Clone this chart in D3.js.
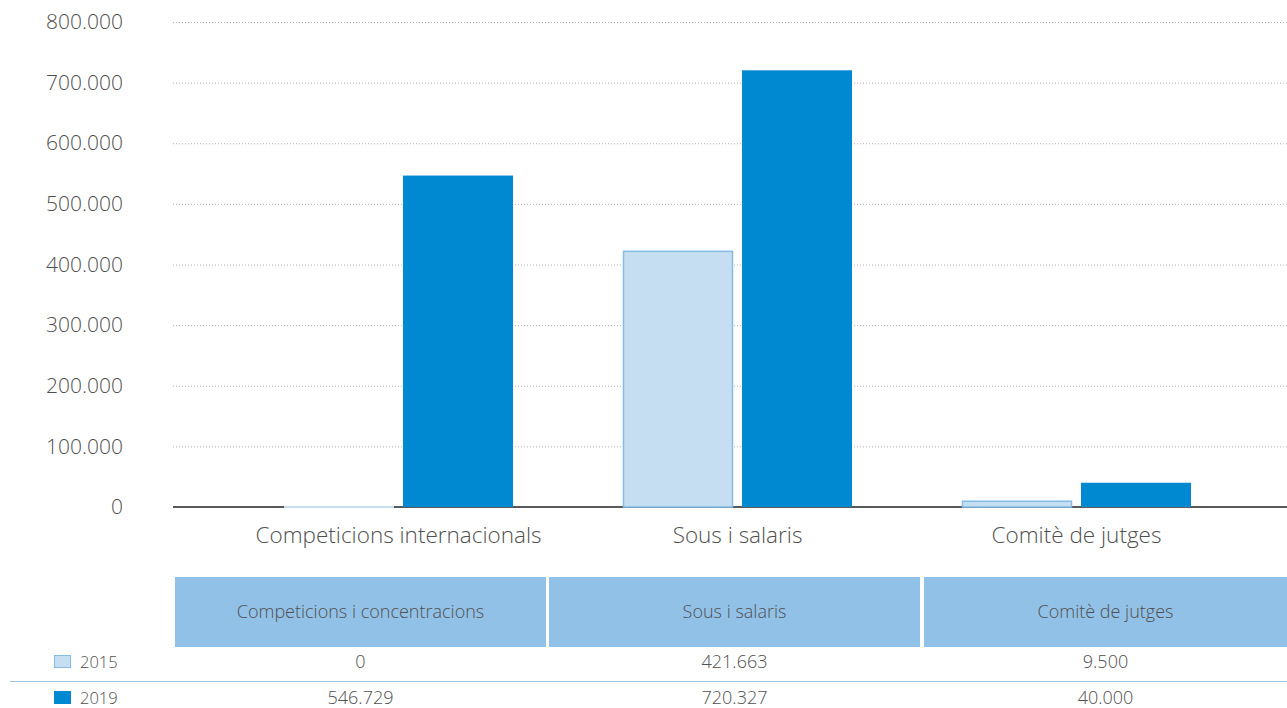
<!DOCTYPE html>
<html><head><meta charset="utf-8">
<script src="https://cdn.jsdelivr.net/npm/d3@7"></script>
<style>
html,body{margin:0;padding:0;background:#fff;}
svg{display:block;font-family:"Open Sans",Lato,sans-serif;font-weight:300;}
</style></head>
<body>
<svg id="c" width="1287" height="708"></svg>
<script>
const categories = ["Competicions internacionals","Sous i salaris","Comitè de jutges"];
const tableHeaders = ["Competicions i concentracions","Sous i salaris","Comitè de jutges"];
const seriesNames = ["2015","2019"];
const values2015 = [0, 421663, 9500];
const values2019 = [546729, 720327, 40000];
const yTicks = [0,100000,200000,300000,400000,500000,600000,700000,800000];

const fmt = v => d3.format(",")(v).replace(/,/g,".");
const svg = d3.select("#c");
const textColor = "#505050";
const FONT = "'Open Sans', Lato, sans-serif";

const y = d3.scaleLinear().domain([0,800000]).range([507,22]);
const x0 = d3.scaleBand().domain(categories).range([229,1246]).paddingInner(0).paddingOuter(0);
const x1 = d3.scaleBand().domain(seriesNames).range([55, 339-55]).paddingInner(9/119).paddingOuter(0);

// grid
svg.append("g").selectAll("line").data(yTicks.filter(d=>d>0)).join("line")
  .attr("x1",173).attr("x2",1287).attr("y1",d=>y(d)+0.5).attr("y2",d=>y(d)+0.5)
  .attr("stroke","#b5b5b5").attr("stroke-dasharray","1,2").attr("stroke-width",1);

// y axis labels
const yAxis = d3.axisLeft(y).tickValues(yTicks).tickFormat(fmt).tickSize(0).tickPadding(0);
const ya = svg.append("g").attr("transform","translate(123,0)").call(yAxis);
ya.select(".domain").remove();
ya.selectAll("text").attr("font-size",21).attr("fill",textColor).attr("font-family",FONT).attr("font-weight",300);

// baseline
svg.append("line").attr("x1",173).attr("x2",1287).attr("y1",507).attr("y2",507)
  .attr("stroke","#5a5a5a").attr("stroke-width",2);

// bars
const series = [
  {name:"2015", values: values2015, fill:"#c6def2", stroke:"#84bce6"},
  {name:"2019", values: values2019, fill:"#0088d1", stroke:"none"}
];
series.forEach(s=>{
  svg.append("g").selectAll("rect").data(categories).join("rect")
    .attr("x",(c)=>x0(c)+x1(s.name)+(s.stroke!=="none"?0.5:0))
    .attr("width",x1.bandwidth()-(s.stroke!=="none"?1:0))
    .attr("y",(c,i)=>y(s.values[i]))
    .attr("height",(c,i)=>Math.max(y(0)-y(s.values[i]), s.values[i]===0?1:0))
    .attr("fill",s.fill)
    .attr("stroke",(c,i)=> s.values[i]===0 ? "none" : s.stroke)
    .attr("stroke-width",1.5);
});
svg.append("g").selectAll("line").data(categories.filter((c,i)=>values2015[i]===0)).join("line")
  .attr("x1",c=>x0(c)+x1("2015")).attr("x2",c=>x0(c)+x1("2015")+x1.bandwidth())
  .attr("y1",507).attr("y2",507).attr("stroke","#c6def2").attr("stroke-width",2);

// category labels
const xAxis = d3.axisBottom(x0).tickSize(0).tickPadding(0);
const xa = svg.append("g").attr("transform","translate(0,543)").call(xAxis);
xa.select(".domain").remove();
xa.selectAll("text").attr("font-size",22.5).attr("fill",textColor).attr("dy","0").attr("font-family",FONT).attr("font-weight",300);

// table
const colX = [175,549,924];
const colW = [371,371,363];
svg.append("g").selectAll("rect").data(tableHeaders).join("rect")
  .attr("x",(d,i)=>colX[i]).attr("y",577).attr("width",(d,i)=>colW[i]).attr("height",70)
  .attr("fill","#92c1e7");
svg.append("g").selectAll("text").data(tableHeaders).join("text")
  .attr("x",(d,i)=>colX[i]+colW[i]/2).attr("y",618).attr("text-anchor","middle")
  .attr("font-size",18).attr("fill",textColor).text(d=>d);

svg.append("line").attr("x1",10).attr("x2",1287).attr("y1",681.5).attr("y2",681.5)
  .attr("stroke","#9cc4e6").attr("stroke-width",1);

const rows = [
  {name:"2015", values: values2015, y:668, fill:"#c6def2", stroke:"#84bce6"},
  {name:"2019", values: values2019, y:704, fill:"#0088d1", stroke:"#0088d1"}
];
rows.forEach(r=>{
  svg.append("rect").attr("x",54.5).attr("y",r.y-12.5).attr("width",16).attr("height",12)
    .attr("fill",r.fill).attr("stroke",r.stroke).attr("stroke-width",1);
  svg.append("text").attr("x",80).attr("y",r.y).attr("font-size",16.5).attr("fill",textColor).text(r.name);
  svg.append("g").selectAll("text").data(r.values).join("text")
    .attr("x",(d,i)=>colX[i]+colW[i]/2).attr("y",r.y).attr("text-anchor","middle")
    .attr("font-size",18).attr("fill",textColor).text(d=>fmt(d));
});
</script>
</body></html>
